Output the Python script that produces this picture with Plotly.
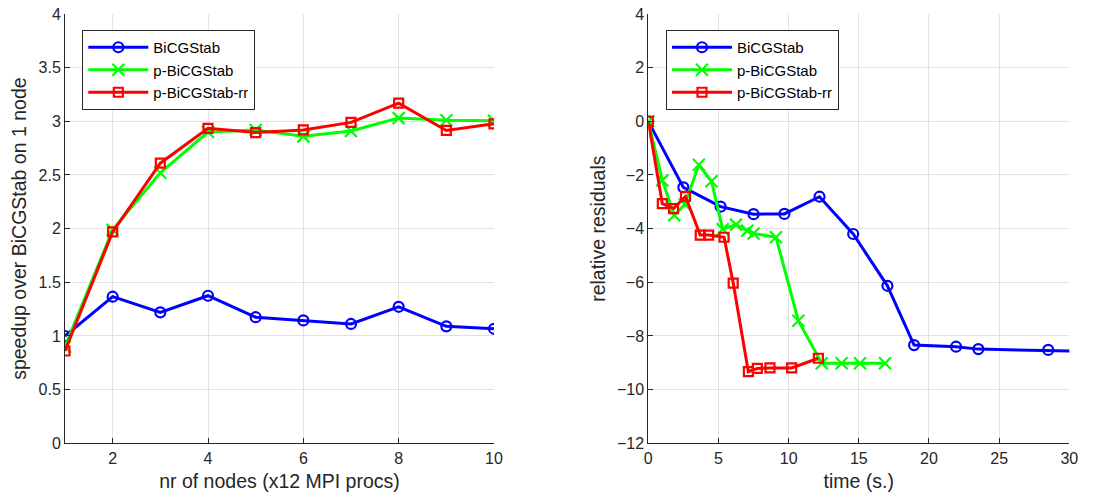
import plotly.graph_objects as go

# ---------------- data: left panel (speedup) ----------------
nodes = [1, 2, 3, 4, 5, 6, 7, 8, 9, 10]
speedup_bicgstab = [1.00, 1.366, 1.22, 1.375, 1.175, 1.145, 1.112, 1.272, 1.09, 1.067]
speedup_pbicgstab = [0.90, 1.99, 2.52, 2.90, 2.92, 2.86, 2.91, 3.03, 3.01, 3.005]
speedup_pbicgstab_rr = [0.86, 1.97, 2.61, 2.935, 2.895, 2.92, 2.99, 3.17, 2.915, 2.977]

# ---------------- data: right panel (residual history) ----------------
t_bicgstab = [0.0, 2.5, 5.15, 7.5, 9.7, 12.2, 14.6, 17.04, 18.94, 21.93, 23.52, 28.5, 32.0]
r_bicgstab = [0.0, -2.46, -3.18, -3.46, -3.45, -2.81, -4.2, -6.13, -8.34, -8.4, -8.49, -8.52, -8.58]

t_pbicgstab = [0.0, 1.0, 1.85, 2.6, 3.6, 4.5, 5.3, 6.25, 7.05, 7.5, 9.1, 10.69, 12.36, 13.78, 15.09, 16.87]
r_pbicgstab = [0.0, -2.2, -3.5, -3.1, -1.62, -2.23, -4.02, -3.85, -4.08, -4.18, -4.32, -7.43, -9.02, -9.02, -9.02, -9.02]

t_pbicgstab_rr = [0.0, 1.0, 1.8, 2.65, 3.7, 4.3, 5.4, 6.05, 7.13, 7.77, 8.67, 10.22, 12.12]
r_pbicgstab_rr = [0.0, -3.07, -3.25, -2.8, -4.24, -4.24, -4.32, -6.03, -9.33, -9.21, -9.19, -9.19, -8.83]

names = ["BiCGStab", "p-BiCGStab", "p-BiCGStab-rr"]
colors = ["#0000FF", "#00FF00", "#FF0000"]
symbols = ["circle-open", "x-thin-open", "square-open"]
msizes = [10, 12, 9]

TXT = "#262626"
GRID = "#e1e1e1"
FONT = "Liberation Sans, Arial, sans-serif"

fig = go.Figure()

left_series = [speedup_bicgstab, speedup_pbicgstab, speedup_pbicgstab_rr]
for i in range(3):
    fig.add_trace(go.Scatter(
        x=nodes, y=left_series[i], name=names[i], mode="lines+markers",
        line=dict(color=colors[i], width=3),
        marker=dict(symbol=symbols[i], size=msizes[i], color=colors[i],
                    line=dict(color=colors[i], width=2.2)),
        xaxis="x", yaxis="y", legend="legend"))

right_x = [t_bicgstab, t_pbicgstab, t_pbicgstab_rr]
right_y = [r_bicgstab, r_pbicgstab, r_pbicgstab_rr]
for i in range(3):
    fig.add_trace(go.Scatter(
        x=right_x[i], y=right_y[i], name=names[i], mode="lines+markers",
        line=dict(color=colors[i], width=3),
        marker=dict(symbol=symbols[i], size=msizes[i], color=colors[i],
                    line=dict(color=colors[i], width=2.2)),
        xaxis="x2", yaxis="y2", legend="legend2"))

W, H = 1093, 501
y_dom = [1 - 443.3 / H, 1 - 14 / H]

axis_common = dict(
    showgrid=True, gridcolor=GRID, gridwidth=1,
    showline=True, linecolor=TXT, linewidth=1,
    ticks="inside", ticklen=5, tickcolor=TXT, tickwidth=1,
    zeroline=False, mirror=False, automargin=False,
    tickfont=dict(family=FONT, size=16, color=TXT),
    title_font=dict(family=FONT, size=19.5, color=TXT),
)

legend_common = dict(
    bgcolor="white", bordercolor=TXT, borderwidth=1,
    font=dict(family=FONT, size=15, color="#000000"),
    xanchor="left", yanchor="top", itemwidth=60,
    tracegroupgap=0,
)

fig.update_layout(
    width=W, height=H,
    margin=dict(l=0, r=0, t=0, b=0, autoexpand=False),
    paper_bgcolor="white", plot_bgcolor="white",
    showlegend=True,
    xaxis=dict(domain=[65 / W, 494 / W], range=[1, 10], tickvals=[2, 4, 6, 8, 10],
               anchor="y", title=dict(text="nr of nodes (x12 MPI procs)", standoff=8),
               **axis_common),
    yaxis=dict(domain=y_dom, range=[0, 4], dtick=0.5, anchor="x",
               title=dict(text="speedup over BiCGStab on 1 node", standoff=6),
               **axis_common),
    xaxis2=dict(domain=[648.3 / W, 1069.3 / W], range=[0, 30], dtick=5, anchor="y2",
                title=dict(text="time (s.)", standoff=8), **axis_common),
    yaxis2=dict(domain=y_dom, range=[-12, 4], dtick=2, anchor="x2",
                title=dict(text="relative residuals", standoff=6), **axis_common),
    legend=dict(x=82.3 / W, y=1 - 30 / H, **legend_common),
    legend2=dict(x=666 / W, y=1 - 30 / H, **legend_common),
)

fig.write_html("out.html")
